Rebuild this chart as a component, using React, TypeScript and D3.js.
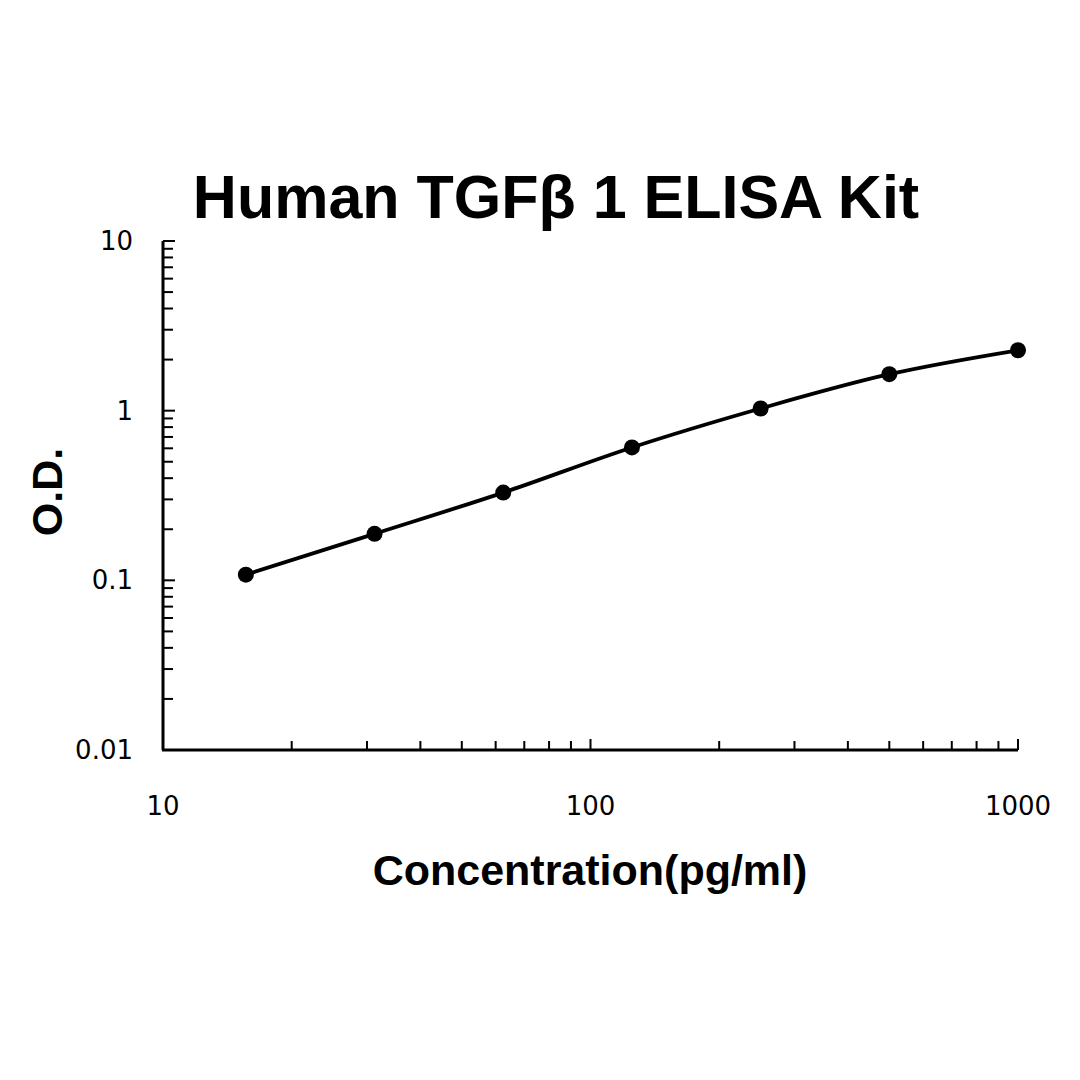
import React from "react";
import * as d3 from "d3";

const concentrations = [15.625, 31.25, 62.5, 125, 250, 500, 1000];
const odValues = [0.108, 0.188, 0.329, 0.607, 1.03, 1.64, 2.27];
const xTickLabels = [10, 100, 1000];
const yTickLabels = [0.01, 0.1, 1, 10];
const title = "Human TGFβ 1 ELISA Kit";
const xTitle = "Concentration(pg/ml)";
const yTitle = "O.D.";

export default function App() {
  const W = 1080, H = 1080;
  const x = d3.scaleLog().domain([10, 1000]).range([163, 1018]);
  const y = d3.scaleLog().domain([0.01, 10]).range([750, 241]);

  const xMinor: number[] = [];
  for (const base of [10, 100]) for (let k = 2; k <= 10; k++) xMinor.push(base * k);
  const yMinor: number[] = [];
  for (const base of [0.01, 0.1, 1]) for (let k = 2; k <= 10; k++) yMinor.push(base * k);

  const pts = concentrations.map((c, i) => [x(c), y(odValues[i])] as [number, number]);
  const line = d3.line().curve(d3.curveMonotoneX)(pts) || "";
  const labelFont = "'DejaVu Sans', Verdana, sans-serif";
  const boldFont = "'Liberation Sans', Arial, sans-serif";

  return (
    <svg width={W} height={H} style={{ position: "absolute", left: 0, top: 0, background: "#fff" }}>
      <rect width={W} height={H} fill="#fff" />
      <text x={556} y={218} textAnchor="middle" fontFamily={boldFont} fontWeight="bold" fontSize={61} fill="#000">{title}</text>
      {/* axes */}
      <line x1={163} x2={163} y1={y(10)} y2={y(0.01)} stroke="#000" strokeWidth={3} />
      <line x1={162} x2={x(1000)} y1={y(0.01)} y2={y(0.01)} stroke="#000" strokeWidth={3} />
      {yMinor.map((v, i) => (
        <line key={"ym" + i} x1={163} x2={v === 10 || v === 1 || v === 0.1 ? 175 : 173} y1={y(v)} y2={y(v)} stroke="#000" strokeWidth={2} />
      ))}
      {xMinor.map((v, i) => (
        <line key={"xm" + i} x1={x(v)} x2={x(v)} y1={y(0.01)} y2={v === 100 || v === 1000 ? 739 : 741} stroke="#000" strokeWidth={2} />
      ))}
      {yTickLabels.map((v) => (
        <text key={"yl" + v} x={133} y={y(v) + 9} textAnchor="end" fontFamily={labelFont} fontSize={26} fill="#000">{String(v)}</text>
      ))}
      {xTickLabels.map((v) => (
        <text key={"xl" + v} x={x(v)} y={815} textAnchor="middle" fontFamily={labelFont} fontSize={26} fill="#000">{String(v)}</text>
      ))}
      <text x={590} y={885} textAnchor="middle" fontFamily={boldFont} fontWeight="bold" fontSize={43} fill="#000">{xTitle}</text>
      <text transform={`translate(62,492) rotate(-90)`} textAnchor="middle" fontFamily={boldFont} fontWeight="bold" fontSize={43} fill="#000">{yTitle}</text>
      <path d={line} fill="none" stroke="#000" strokeWidth={3.8} />
      {pts.map((p, i) => (
        <circle key={"p" + i} cx={p[0]} cy={p[1]} r={8} fill="#000" />
      ))}
    </svg>
  );
}
